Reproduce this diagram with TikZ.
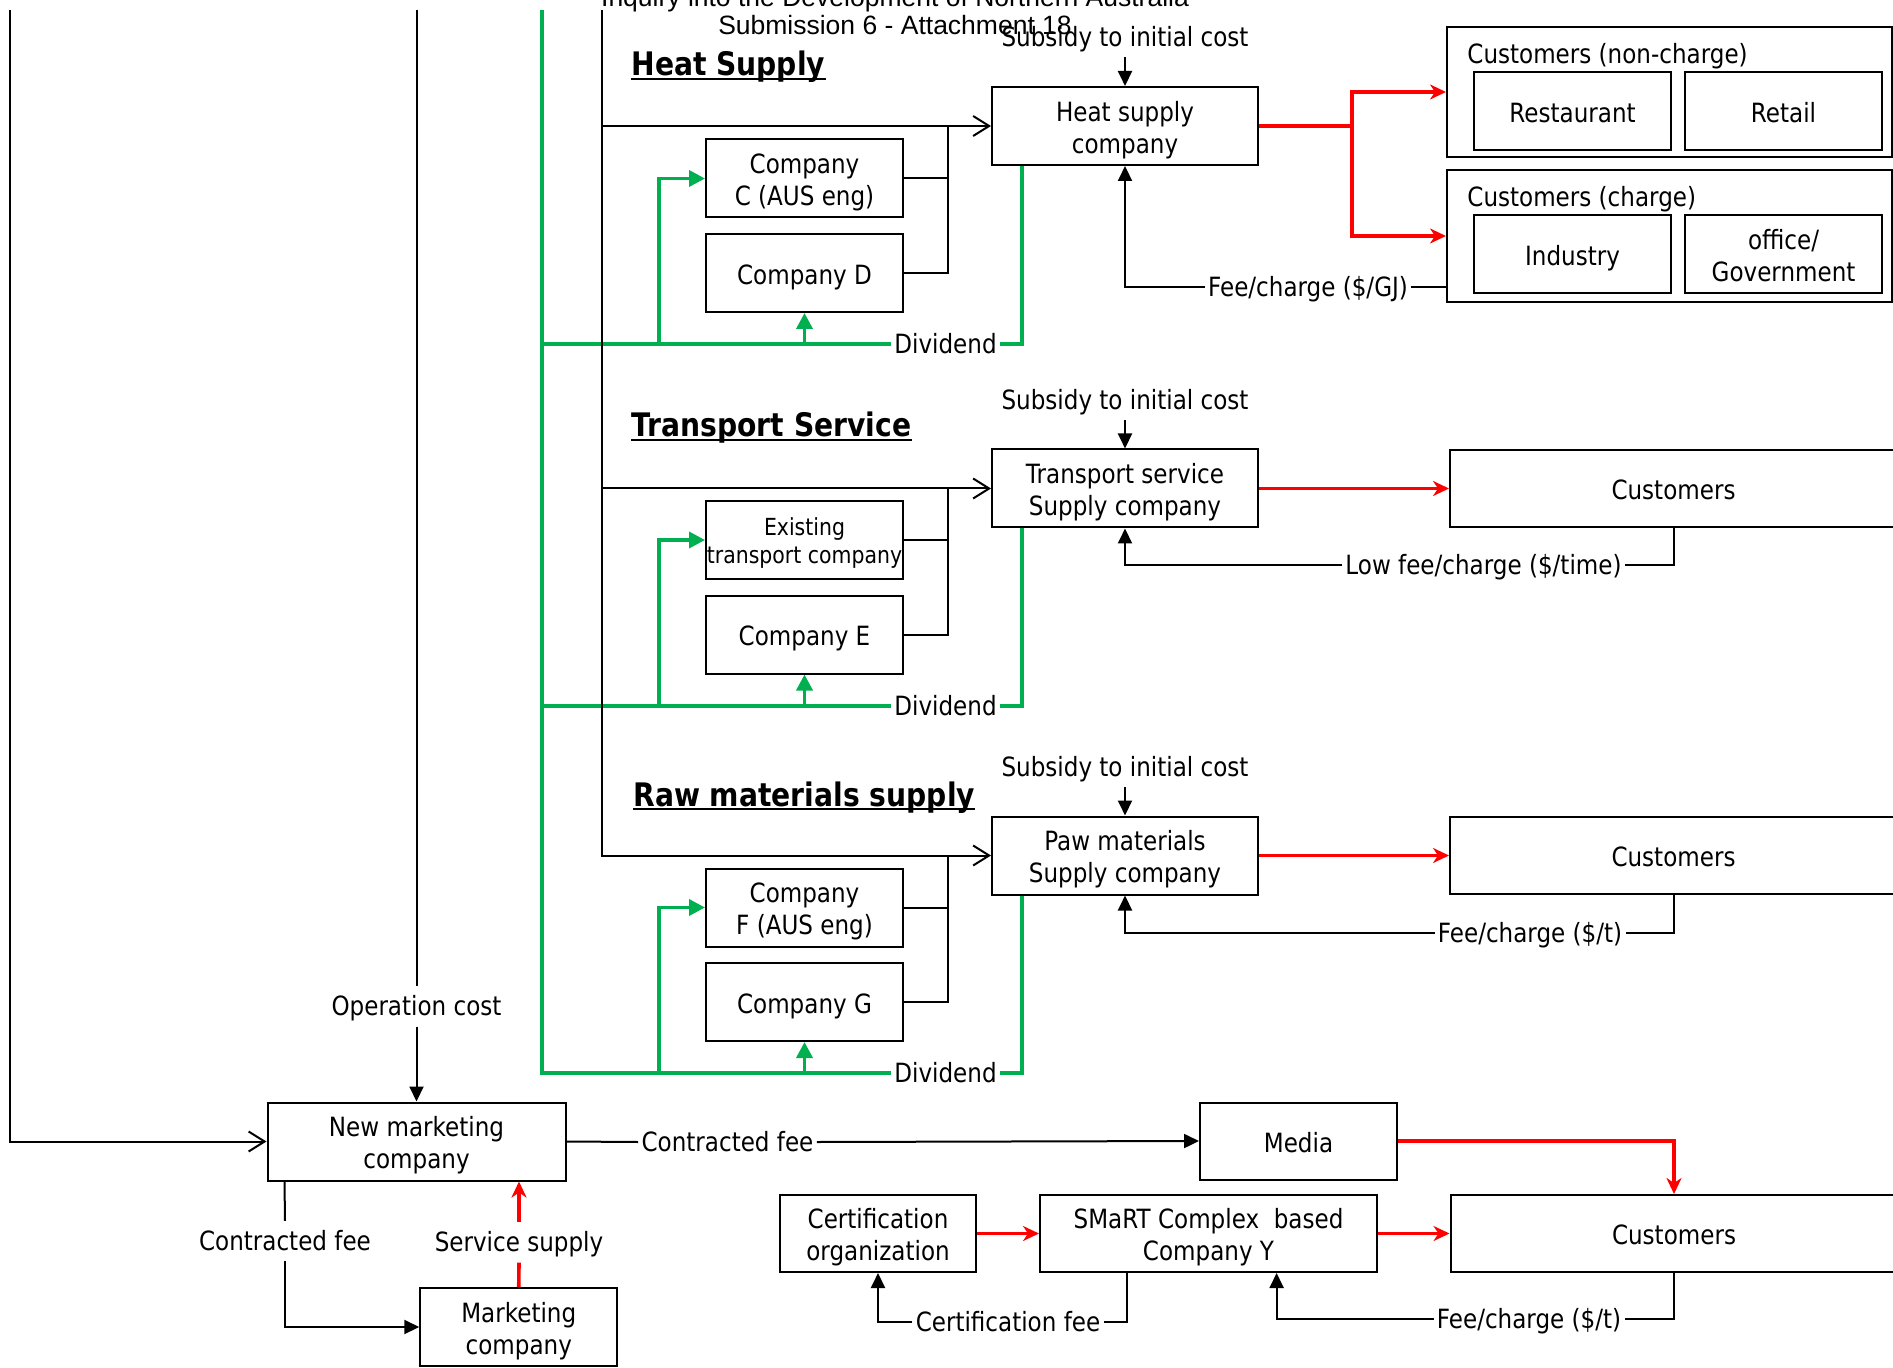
\documentclass[tikz,border=0pt]{standalone}
\usepackage{fontspec}
\setmainfont{DejaVu Sans}[FakeStretch=0.87]
\newfontfamily\docheadfont{Liberation Sans}
\usetikzlibrary{arrows.meta}
\definecolor{divgreen}{RGB}{0,176,80}
\definecolor{flowred}{RGB}{255,0,0}
\newcommand\txtnorm{\fontsize{13.25}{16}\selectfont}
\newcommand\txtsmall{\fontsize{11.75}{14.3}\selectfont}
\newcommand\txthead{\fontsize{16.2}{19}\selectfont\bfseries}
% two centred lines; the strut on the first row sets the text a little low in its box
\newcommand\twolines[3][16pt]{\begin{tabular}{@{}c@{}}\rule{0pt}{#1}#2\\#3\end{tabular}}
\tikzset{
  tipbarb/.tip={Straight Barb[length=8pt,width=10pt]},
  tiptri/.tip={Triangle[length=7.5pt,width=7pt]},
  tipgreen/.tip={Triangle[length=8pt,width=8pt]},
  tipred/.tip={Stealth[length=8pt,width=7.5pt,inset=2.5pt]},
  box/.style={draw, line width=1pt, align=center, inner sep=0pt, font=\txtnorm,
    execute at begin node={\rule[-3.2pt]{0pt}{17.7pt}}},
  compbox/.style={box, minimum width=98.5pt, minimum height=39pt},
  supbox/.style={box, minimum width=133pt, minimum height=39pt},
  custbox/.style={box, minimum width=223.5pt, minimum height=38.5pt},
  lbl/.style={inner xsep=1.5pt, inner ysep=2pt, font=\txtnorm,
    execute at begin node={\rule[-3.2pt]{0pt}{15.7pt}}},
  head/.style={inner sep=0pt, font=\txthead},
  conn/.style={line width=1pt},
  gline/.style={draw=divgreen, line width=1.8pt},
  rline/.style={draw=flowred, line width=1.8pt},
}
\begin{document}
\begin{tikzpicture}[x=0.5pt,y=-0.5pt]
\useasboundingbox (0,0) rectangle (1893,1368);

% page header
\node[anchor=base, inner sep=0pt, font=\docheadfont\fontsize{13.25}{16}\selectfont] (hdrA) at (895,7) {Inquiry into the Development of Northern Australia};
\node[anchor=base, inner sep=0pt, font=\docheadfont\fontsize{13.25}{16}\selectfont] (hdrB) at (895,34.5) {Submission 6 - Attachment 18};

% section titles, underlined
\node[head, anchor=base west] (ttlHeat) at (631,76) {Heat Supply};
\node[head, anchor=base west] (ttlTrans) at (631,437) {Transport Service};
\node[head, anchor=base west] (ttlRaw) at (633,806) {Raw materials supply};
\foreach \t in {ttlHeat,ttlTrans,ttlRaw}
  \draw[line width=1pt] ([yshift=-1.6pt]\t.base west) -- ([yshift=-1.6pt]\t.base east);

% supply companies
\node[supbox] (heat)  at (1125,126)   {\twolines{Heat supply}{company}};
\node[supbox] (trans) at (1125,488.5) {\twolines{Transport service}{Supply company}};
\node[supbox] (raw)   at (1125,855.5) {\twolines{Paw materials}{Supply company}};

% participating companies
\node[compbox] (compC) at (804.5,178.5)  {\twolines{Company}{C (AUS eng)}};
\node[compbox] (compD) at (804.5,273)    {Company D};
\node[compbox, font=\txtsmall] (compX) at (804.5,540) {\twolines[13.6pt]{Existing}{transport company}};
\node[compbox] (compE) at (804.5,634.5)  {Company E};
\node[compbox] (compF) at (804.5,907.5)  {\twolines{Company}{F (AUS eng)}};
\node[compbox] (compG) at (804.5,1002)   {Company G};

% subsidy labels
\node[lbl] (sub1) at (1125,37)  {Subsidy to initial cost};
\node[lbl] (sub2) at (1125,400) {Subsidy to initial cost};
\node[lbl] (sub3) at (1125,767) {Subsidy to initial cost};

% heat customers
\node[draw, line width=1pt, inner sep=0pt, minimum width=222.5pt, minimum height=65pt] (custNC) at (1669.5,92) {};
\node[draw, line width=1pt, inner sep=0pt, minimum width=222.5pt, minimum height=66pt] (custC) at (1669.5,236) {};
\node[lbl, anchor=west, inner sep=0pt] (custNCt) at (1467,54) {Customers (non-charge)};
\node[lbl, anchor=west, inner sep=0pt] (custCt) at (1467,197) {Customers (charge)};
\node[compbox] (rest)   at (1572.5,111) {Restaurant};
\node[compbox] (retail) at (1783.5,111) {Retail};
\node[compbox] (indus)  at (1572.5,254) {Industry};
\node[compbox] (office) at (1783.5,254) {\twolines{office/}{Government}};

% other customers
\node[custbox] (cust1) at (1673.5,488.5) {Customers};
\node[custbox] (cust2) at (1673.5,855.5) {Customers};
\node[custbox] (cust3) at (1674,1233.5)  {Customers};

% flow labels
\node[lbl] (feeGJ)  at (1308,287)    {Fee/charge (\$/GJ)};
\node[lbl] (lowfee) at (1483.5,565)  {Low fee/charge (\$/time)};
\node[lbl] (feeT1)  at (1530,933)    {Fee/charge (\$/t)};
\node[lbl] (div1) at (945.5,344)  {Dividend};
\node[lbl] (div2) at (945.5,706)  {Dividend};
\node[lbl] (div3) at (945.5,1073) {Dividend};

% marketing part
\node[box, minimum width=149pt, minimum height=39pt] (newmkt) at (416.5,1141.5) {\twolines{New marketing}{company}};
\node[compbox] (mkt) at (518.75,1327) {\twolines{Marketing}{company}};
\node[box, minimum width=98.5pt, minimum height=38.5pt] (media) at (1298.5,1141) {Media};
\node[box, minimum width=98pt, minimum height=38.5pt] (cert) at (878,1233.5) {\twolines{Certification}{organization}};
\node[box, minimum width=168.5pt, minimum height=38.5pt] (smart) at (1208.5,1233.5) {\twolines{SMaRT Complex\ \ based}{Company Y}};
\node[lbl] (opcost)  at (416.5,1006.5) {Operation cost};
\node[lbl] (cfee1)   at (285,1241)     {Contracted fee};
\node[lbl] (svc)     at (519,1242.5)   {Service supply};
\node[lbl] (cfee2)   at (727.5,1142)   {Contracted fee};
\node[lbl] (certfee) at (1008,1322)    {Certification fee};
\node[lbl] (feeT2)   at (1529,1319)    {Fee/charge (\$/t)};

% free ends and routing columns
\coordinate (topL)  at (10,10);
\coordinate (topOp) at (416.5,10);
\coordinate (topG)  at (542,10);
\coordinate (topB)  at (602,10);
\coordinate (busx)  at (948,0);
\coordinate (gbx)   at (659,0);
\coordinate (rj)    at (1352,126);

% dividend flows
\draw[gline] (topG) |- (div3.west);
\draw[gline] (topG |- div1) -- (div1.west);
\draw[gline] (topG |- div2) -- (div2.west);
\draw[gline] (div1.east) -| ([xshift=15.5pt]heat.south west);
\draw[gline] (div2.east) -| ([xshift=15.5pt]trans.south west);
\draw[gline] (div3.east) -| ([xshift=15.5pt]raw.south west);
\draw[gline,-tipgreen] (gbx |- div1) |- (compC.west);
\draw[gline,-tipgreen] (gbx |- div2) |- (compX.west);
\draw[gline,-tipgreen] (gbx |- div3) |- (compF.west);
\draw[gline,-tipgreen] (compD.south |- div1) -- (compD.south);
\draw[gline,-tipgreen] (compE.south |- div2) -- (compE.south);
\draw[gline,-tipgreen] (compG.south |- div3) -- (compG.south);

% investment flows
\draw[conn,-tipbarb] (topL) |- (newmkt.west);
\draw[conn] (topOp) -- (opcost.north);
\draw[conn,-tiptri] (opcost.south) -- (newmkt.north);
\draw[conn,-tipbarb] (topB) |- (raw.west);
\draw[conn,-tipbarb] (topB |- heat.west) -- (heat.west);
\draw[conn,-tipbarb] (topB |- trans.west) -- (trans.west);
\draw[conn] (compC.east) -- (compC.east -| busx);
\draw[conn] (compD.east) -| (busx |- heat.west);
\draw[conn] (compX.east) -- (compX.east -| busx);
\draw[conn] (compE.east) -| (busx |- trans.west);
\draw[conn] (compF.east) -- (compF.east -| busx);
\draw[conn] (compG.east) -| (busx |- raw.west);

% subsidies
\draw[conn,-tiptri] (sub1.south) -- (heat.north);
\draw[conn,-tiptri] (sub2.south) -- (trans.north);
\draw[conn,-tiptri] (sub3.south) -- (raw.north);

% fees back to suppliers
\draw[conn] (custC.west |- feeGJ) -- (feeGJ.east);
\draw[conn,-tiptri] (feeGJ.west) -| (heat.south);
\draw[conn] (cust1.south) |- (lowfee.east);
\draw[conn,-tiptri] (lowfee.west) -| (trans.south);
\draw[conn] (cust2.south) |- (feeT1.east);
\draw[conn,-tiptri] (feeT1.west) -| (raw.south);

% service supply
\draw[rline] (heat.east) -- (rj);
\draw[rline,-tipred] (rj) |- (custNC.west);
\draw[rline,-tipred] (rj) |- (custC.west);
\draw[rline,-tipred] (trans.east) -- (cust1.west);
\draw[rline,-tipred] (raw.east) -- (cust2.west);

% marketing flows
\draw[conn] (newmkt.east) -- (cfee2.west);
\draw[conn,-tiptri] (cfee2.east) -- (media.west);
\draw[conn] ([xshift=9pt]newmkt.south west) -- (cfee1.north);
\draw[conn,-tiptri] (cfee1.south) |- (mkt.west);
\draw[rline] (mkt.north) -- (svc.south);
\draw[rline,-tipred] (svc.north) -- (svc.north |- newmkt.south);
\draw[rline,-tipred] (media.east) -| (cust3.north);
\draw[rline,-tipred] (cert.east) -- (smart.west);
\draw[rline,-tipred] (smart.east) -- (cust3.west);
\draw[conn] ([xshift=44pt]smart.south west) |- (certfee.east);
\draw[conn,-tiptri] (certfee.west) -| (cert.south);
\draw[conn] (cust3.south) |- (feeT2.east);
\draw[conn,-tiptri] (feeT2.west) -| ([xshift=118.8pt]smart.south west);
\end{tikzpicture}
\end{document}
